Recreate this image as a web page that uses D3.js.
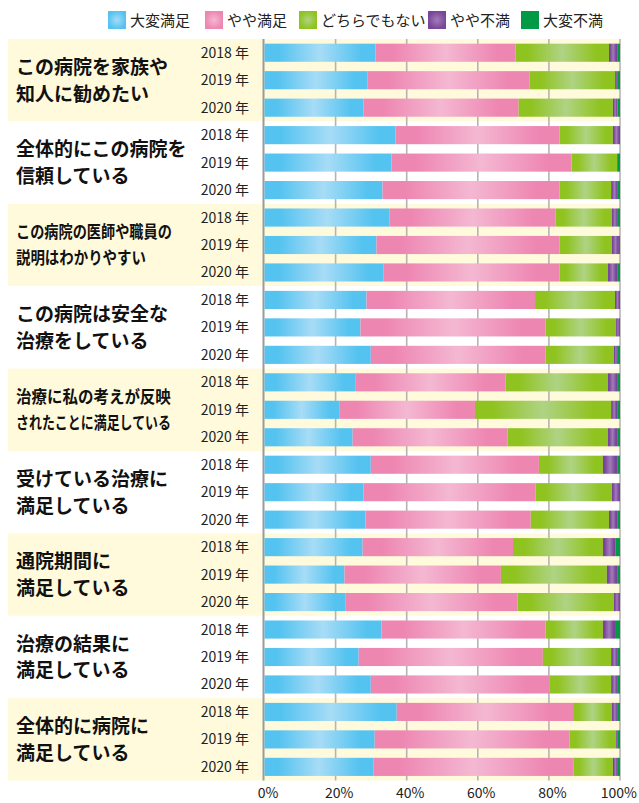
<!DOCTYPE html>
<html><head><meta charset="utf-8">
<script src="https://cdn.jsdelivr.net/npm/d3@7"></script>
<style>
html,body{margin:0;padding:0;background:#fff;}
svg{display:block;font-family:"Noto Sans CJK JP","Noto Sans",sans-serif;}
</style></head>
<body><svg id="c" width="639" height="803"></svg>
<script>
// ---- data ----
const questions = [
  ["この病院を家族や","知人に勧めたい"],
  ["全体的にこの病院を","信頼している"],
  ["この病院の医師や職員の","説明はわかりやすい"],
  ["この病院は安全な","治療をしている"],
  ["治療に私の考えが反映","されたことに満足している"],
  ["受けている治療に","満足している"],
  ["通院期間に","満足している"],
  ["治療の結果に","満足している"],
  ["全体的に病院に","満足している"]
];
const years = ["2018 年","2019 年","2020 年"];
const categories = ["大変満足","やや満足","どちらでもない","やや不満","大変不満"];
const verySatisfied     = [31.2,28.9,27.8, 36.8,35.7,33.2, 35.1,31.5,33.4, 28.7,27.0,29.9, 25.5,21.0,24.8, 29.9,27.8,28.4, 27.6,22.5,22.7, 32.9,26.5,29.9, 37.2,31.0,30.6];
const somewhatSatisfied = [39.4,45.7,43.7, 46.2,50.7,49.8, 46.8,51.5,49.6, 47.4,52.1,49.2, 42.3,38.2,43.6, 47.3,48.4,46.5, 42.3,44.0,48.5, 46.2,51.8,50.3, 49.6,54.8,56.4];
const neutral           = [26.3,24.0,26.5, 15.0,12.8,14.5, 15.8,14.7,13.6, 22.5,19.8,19.2, 28.8,38.3,28.2, 18.0,21.5,22.0, 25.3,29.8,27.1, 16.1,19.2,17.3, 10.9,13.1,11.0];
const somewhatUnsat     = [ 2.3, 0.6, 1.3,  2.0, 0.0, 1.9,  1.7, 2.0, 2.6,  1.4, 1.1, 1.1,  2.8, 1.7, 2.6,  4.0, 2.3, 2.3,  3.6, 2.9, 1.7,  3.4, 1.9, 1.9,  1.7, 0.5, 1.4];
const veryUnsat         = [ 0.8, 0.8, 0.7,  0.0, 0.8, 0.6,  0.6, 0.3, 0.8,  0.0, 0.0, 0.6,  0.6, 0.8, 0.8,  0.8, 0.0, 0.8,  1.2, 0.8, 0.0,  1.4, 0.6, 0.6,  0.6, 0.6, 0.6];
const xTicks = [0,20,40,60,80,100];

const series = [verySatisfied, somewhatSatisfied, neutral, somewhatUnsat, veryUnsat];
const edgeColors   = ["#55c3f0","#ee86b2","#8fc31f","#7a4599","#009a44"];
const centerColors = ["#a7dcf6","#f4b8d2","#afd384","#a17cb8","#009a44"];

const rows = [];
questions.forEach((q,gi)=>years.forEach((yr,yi)=>{
  const i = gi*3+yi;
  const r = {id:i, g:gi, year:yr};
  categories.forEach((c,ci)=>r[c]=series[ci][i]);
  rows.push(r);
}));

const svg = d3.select("#c");
const defs = svg.append("defs");
categories.forEach((c,ci)=>{
  const g = defs.append("linearGradient").attr("id","g"+ci)
    .attr("x1","0").attr("x2","1").attr("y1","0").attr("y2","0");
  [[0,edgeColors[ci]],[0.13,edgeColors[ci]],[0.5,centerColors[ci]],[0.87,edgeColors[ci]],[1,edgeColors[ci]]]
    .forEach(([o,col])=>g.append("stop").attr("offset",o).attr("stop-color",col));
  const rg = defs.append("radialGradient").attr("id","r"+ci);
  rg.append("stop").attr("offset",0).attr("stop-color",centerColors[ci]);
  rg.append("stop").attr("offset",1).attr("stop-color",edgeColors[ci]);
});

const yTop = 39, yBottom = 780.6;
const x = d3.scaleLinear().domain([0,100]).range([264.5,620]);
const y = d3.scaleBand().domain(rows.map(r=>r.id)).range([yTop,yBottom]).paddingInner(0.34).paddingOuter(0.17);
const gH = (yBottom-yTop)/questions.length;
const gy = d3.scaleLinear().domain([0,questions.length]).range([yTop,yBottom]);

// group bands
svg.append("g").selectAll("rect").data(questions).join("rect")
  .attr("x",8).attr("width",612).attr("y",(d,i)=>gy(i)).attr("height",gH)
  .attr("fill",(d,i)=>i%2===0?"#fffadb":"#ffffff");

// gridlines
svg.append("g").selectAll("line").data(xTicks).join("line")
  .attr("x1",d=>d===0?x(0)-1:x(d)).attr("x2",d=>d===0?x(0)-1:x(d))
  .attr("y1",yTop).attr("y2",yBottom)
  .attr("stroke",d=>d===0?"#9a9a9a":"#b4b4b4")
  .attr("stroke-width",d=>d===0?2:1.6);

// bars
const stack = d3.stack().keys(categories)(rows);
svg.append("g").selectAll("g").data(stack).join("g")
  .attr("fill",(d,i)=>`url(#g${i})`)
  .selectAll("rect").data(d=>d).join("rect")
  .attr("x",d=>x(d[0])).attr("width",d=>Math.max(0,x(d[1])-x(d[0])))
  .attr("y",d=>y(d.data.id)).attr("height",y.bandwidth());

// year labels
svg.append("g").selectAll("text").data(rows).join("text")
  .attr("x",249).attr("y",d=>y(d.id)+y.bandwidth()/2+5)
  .attr("text-anchor","end").attr("font-size",14).attr("fill","#222")
  .text(d=>d.year);

// question labels
const fit = {2:[156,130],4:[155,155]};
const ql = svg.append("g").selectAll("g").data(questions).join("g");
ql.each(function(q,gi){
  const cy = gy(gi)+gH/2;
  const small = fit[gi];
  q.forEach((line,li)=>{
    const ty = cy+(li===0?-13.3:13.3)+(small?6:7);
    const t = d3.select(this).append("text")
      .attr("font-size",small?17:19).attr("font-weight","bold").attr("fill","#111")
      .text(line);
    if(small){
      const w = t.node().getComputedTextLength();
      t.attr("transform",`translate(16,${ty}) scale(${small[li]/w},1)`);
    } else {
      t.attr("x",16).attr("y",ty);
    }
  });
});

// x axis labels
svg.append("g").selectAll("text").data(xTicks).join("text")
  .attr("x",d=>d===100?637:x(d)+3.5).attr("y",798)
  .attr("text-anchor",d=>d===100?"end":"middle")
  .attr("font-size",14).attr("fill","#222").text(d=>d+"%");

// legend
const legX = [108,205,299,428,521];
const lg = svg.append("g").selectAll("g").data(categories).join("g")
  .attr("transform",(d,i)=>`translate(${legX[i]},11)`);
lg.append("rect").attr("width",18).attr("height",18).attr("fill",(d,i)=>`url(#r${i})`);
lg.append("text").attr("x",22).attr("y",15).attr("font-size",15).attr("fill","#222").text(d=>d);
</script></body></html>
